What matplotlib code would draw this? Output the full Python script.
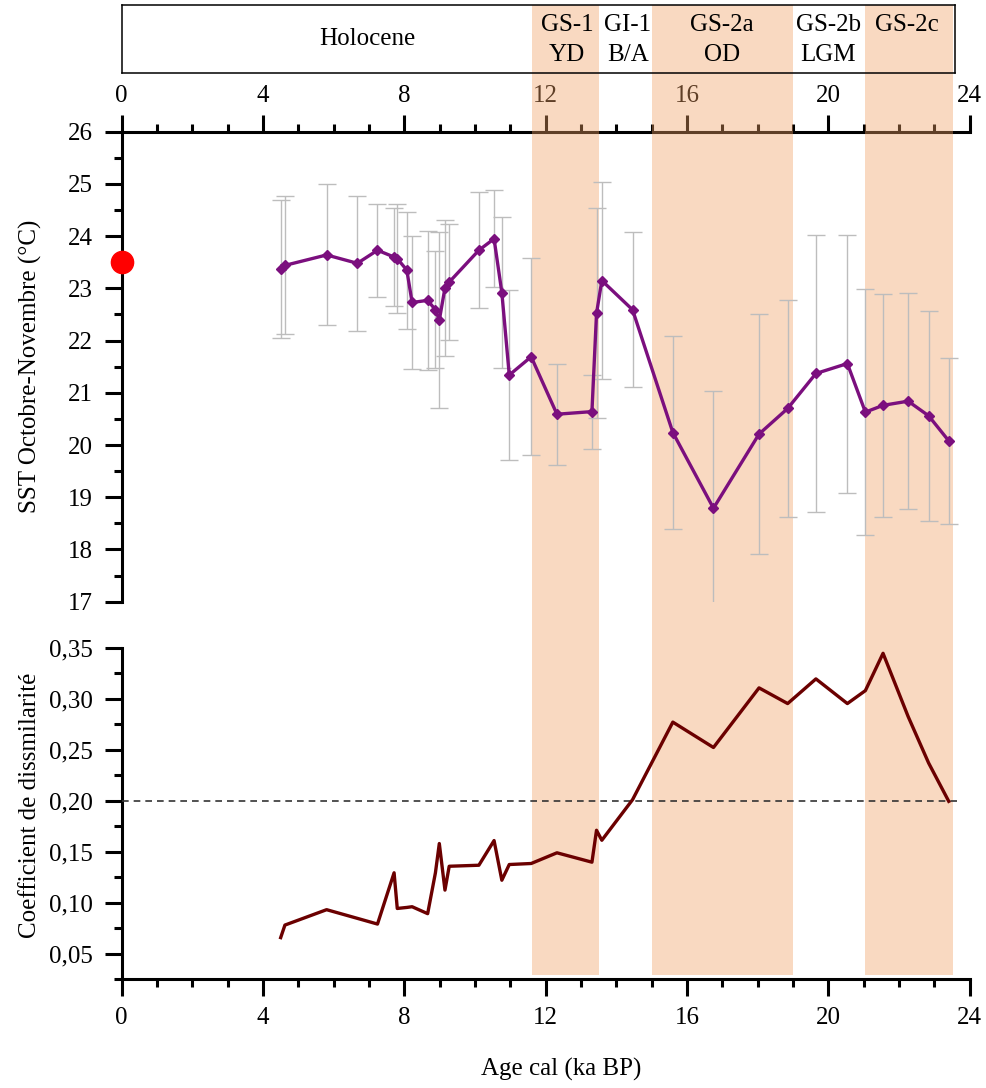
import matplotlib
matplotlib.use('Agg')
import matplotlib.pyplot as plt
import numpy as np

plt.rcParams['font.family'] = ['Liberation Serif', 'DejaVu Serif']

# ages (ka BP) of the core samples
age = [4.50, 4.62, 5.80, 6.67, 7.24, 7.71, 7.80, 8.07, 8.22, 8.66, 8.88, 8.99,
       9.15, 9.27, 10.11, 10.54, 10.76, 10.97, 11.59, 12.32, 13.31, 13.44, 13.59,
       14.46, 15.60, 16.75, 18.04, 18.85, 19.65, 20.54, 21.05, 21.55, 22.26,
       22.84, 23.41]
sst = [23.37, 23.44, 23.64, 23.48, 23.73, 23.60, 23.57, 23.35, 22.73, 22.77,
       22.59, 22.39, 23.01, 23.12, 23.73, 23.95, 22.92, 21.34, 21.69, 20.59,
       20.64, 22.52, 23.15, 22.59, 20.24, 18.79, 20.21, 20.70, 21.37, 21.56,
       20.63, 20.76, 20.84, 20.56, 20.08]
sst_err = [1.32, 1.32, 1.35, 1.29, 0.89, 0.94, 1.04, 1.12, 1.27, 1.33, 1.12,
           1.69, 1.30, 1.11, 1.11, 0.93, 1.45, 1.62, 1.89, 0.97, 0.71, 2.01,
           1.89, 1.48, 1.85, 2.25, 2.30, 2.08, 2.66, 2.47, 2.35, 2.13, 2.07,
           2.01, 1.59]
dissim = [0.0656, 0.0779, 0.0930, 0.0845, 0.0789, 0.1292, 0.0942, 0.0952,
          0.0959, 0.0891, 0.1292, 0.1579, 0.1122, 0.1356, 0.1366, 0.1608,
          0.1219, 0.1373, 0.1383, 0.1488, 0.1396, 0.1709, 0.1611, 0.2009,
          0.2770, 0.2521, 0.3106, 0.2952, 0.3194, 0.2952, 0.3079, 0.3445,
          0.2825, 0.2369, 0.1993]

modern_age = 0
modern_sst = 23.5
threshold = 0.20

# stadial bands (ka BP)
bands = [(11.62, 13.52), (15.0, 19.0), (21.05, 23.52)]

epoch_names = ['Holocene', 'GS-1\nYD', 'GI-1\nB/A', 'GS-2a\nOD', 'GS-2b\nLGM', 'GS-2c']
epoch_pos = [6.94, 12.6, 14.33, 17.0, 20.0, 22.23]

sst_ticks = list(range(17, 27))
dis_ticks = [0.05, 0.10, 0.15, 0.20, 0.25, 0.30, 0.35]
dis_labels = [f'{v:.2f}'.replace('.', ',') for v in dis_ticks]
age_ticks = [0, 4, 8, 12, 16, 20, 24]

W, H = 987, 1088
fig = plt.figure(figsize=(W / 100, H / 100), dpi=100)


def rect(x0, y0, x1, y1):
    # pixel box (top-left origin) -> figure fraction
    return [x0 / W, 1 - y1 / H, (x1 - x0) / W, (y1 - y0) / H]


xl, xr = 121.7, 969.6
r_top = rect(xl, 131.7, xr, 601.7)
r_bot = rect(xl, 647.7, xr, 979)

ax1 = fig.add_axes(r_top)
ax2 = fig.add_axes(r_bot)
band = fig.add_axes(rect(xl, 5, xr, 975))
ax1d = fig.add_axes(r_top)
ax2d = fig.add_axes(r_bot)
box_right = 23.6
box = fig.add_axes(rect(xl, 5, xl + (xr - xl) * box_right / 24, 73))

lw = 2.2
for ax in (ax1, ax2):
    ax.set_xlim(0, 24)
    ax.patch.set_visible(False)
    for s in ax.spines.values():
        s.set_linewidth(lw)
    ax.set_xticks(age_ticks)
    ax.set_xticks(np.arange(0, 25, 1), minor=True)
    ax.tick_params(which='major', length=12, width=lw, labelsize=18)
    ax.tick_params(which='minor', length=6, width=lw)
    ax.tick_params(axis='y', pad=9)

# top panel frame
ax1.set_ylim(17, 26)
ax1.spines['right'].set_visible(False)
ax1.spines['bottom'].set_visible(False)
ax1.xaxis.tick_top()
ax1.tick_params(axis='x', pad=6)
ax1.set_yticks(sst_ticks)
ax1.set_yticks(np.arange(17, 26.01, 0.5), minor=True)

# bottom panel frame
ax2.set_ylim(0.025, 0.35)
ax2.spines['right'].set_visible(False)
ax2.spines['top'].set_visible(False)
ax2.set_yticks(dis_ticks)
ax2.set_yticklabels(dis_labels)
ax2.set_yticks(np.arange(0.025, 0.351, 0.025), minor=True)
ax2.tick_params(axis='x', pad=8)

# shaded stadials over the frames
band.set_xlim(0, 24)
band.set_ylim(0, 1)
band.axis('off')
for x0, x1 in bands:
    band.axvspan(x0, x1, color='#F0A064', alpha=0.4, lw=0)

# data layers
for ax in (ax1d, ax2d):
    ax.set_xlim(0, 24)
    ax.axis('off')
ax1d.set_ylim(17, 26)
ax2d.set_ylim(0.025, 0.35)

ax1d.errorbar(age, sst, yerr=sst_err, fmt='none', ecolor='#bdbdbd',
              elinewidth=1, capsize=6.5, capthick=1)
ax1d.plot(age, sst, color='#7b0f7e', lw=2.4, marker='D', ms=5.5)
ax1d.plot([modern_age], [modern_sst], 'o', color='#ff0000', ms=16, clip_on=False)

ax2d.axhline(threshold, xmin=0, xmax=23.7 / 24, color='#333333', lw=1.2,
             ls=(0, (4, 3)))
ax2d.plot(age, dissim, color='#6b0000', lw=2.4)

# chronostratigraphy box
box.set_xlim(0, box_right)
box.set_ylim(0, 1)
box.set_xticks([])
box.set_yticks([])
box.patch.set_visible(False)
for s in box.spines.values():
    s.set_linewidth(1.1)
for name, xp in zip(epoch_names, epoch_pos):
    parts = name.split('\n')
    if name == 'Holocene':
        box.text(xp, 0.5, name, ha='center', va='center', fontsize=18)
    else:
        box.text(xp, 0.706, parts[0], ha='center', va='center', fontsize=18)
        if len(parts) > 1:
            box.text(xp, 0.265, parts[1], ha='center', va='center', fontsize=18)

fig.text(30 / W, 1 - 366 / H, 'SST Octobre-Novembre (°C)', rotation=90,
         ha='center', va='center', fontsize=18)
fig.text(30 / W, 1 - 805 / H, 'Coefficient de dissmilarité', rotation=90,
         ha='center', va='center', fontsize=18)
fig.text(561 / W, 1 - 1069 / H, 'Age cal (ka BP)', ha='center', va='center',
         fontsize=18)

fig.savefig('out.png', dpi=100)
